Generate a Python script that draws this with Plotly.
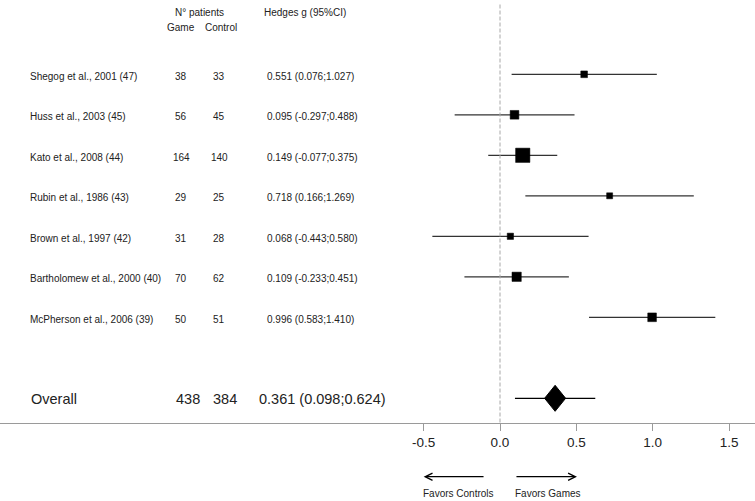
import plotly.graph_objects as go

# ---------------- data ----------------
studies = [
    "Shegog et al., 2001 (47)",
    "Huss et al., 2003 (45)",
    "Kato et al., 2008 (44)",
    "Rubin et al., 1986 (43)",
    "Brown et al., 1997 (42)",
    "Bartholomew et al., 2000 (40)",
    "McPherson et al., 2006 (39)",
]
n_game = [38, 56, 164, 29, 31, 70, 50]
n_control = [33, 45, 140, 25, 28, 62, 51]
hedges_g = [0.551, 0.095, 0.149, 0.718, 0.068, 0.109, 0.996]
ci_low = [0.076, -0.297, -0.077, 0.166, -0.443, -0.233, 0.583]
ci_high = [1.027, 0.488, 0.375, 1.269, 0.580, 0.451, 1.410]

overall_label = "Overall"
overall_game = 438
overall_control = 384
overall_g = 0.361
overall_low = 0.098
overall_high = 0.624

tick_values = [-0.5, 0.0, 0.5, 1.0, 1.5]
tick_labels = ["-0.5", "0.0", "0.5", "1.0", "1.5"]

# ---------------- styles ----------------
W, H = 755, 501
X0_PX = 500.0          # pixel of g = 0
PX_PER_UNIT = 152.7    # pixels per unit of g
ROW0_PX = 74.3         # pixel of first row
ROW_PX = 40.5          # pixels per row
square_px = [6.7, 8.7, 14.3, 6.0, 6.3, 9.3, 8.7]
FONT = "Liberation Sans, Arial, Helvetica, sans-serif"
TXT = "#222222"
LINE = "#333333"

def px_x(p):
    return p / W

def px_y(p):
    return 1 - p / H

rows = list(range(len(studies)))
overall_row = len(studies) + 1

fig = go.Figure()

# CI lines
xs, ys = [], []
for r, lo, hi in zip(rows, ci_low, ci_high):
    xs += [lo, hi, None]
    ys += [r, r, None]
fig.add_trace(go.Scatter(x=xs, y=ys, mode="lines",
                         line=dict(color=LINE, width=1.3),
                         hoverinfo="skip", showlegend=False))

# squares
fig.add_trace(go.Scatter(x=hedges_g, y=rows, mode="markers",
                         marker=dict(symbol="square", size=square_px, color="black",
                                     opacity=1, line=dict(width=0.5, color="black")),
                         showlegend=False))

# overall CI line
fig.add_trace(go.Scatter(x=[overall_low, overall_high], y=[overall_row, overall_row],
                         mode="lines", line=dict(color="black", width=1.3),
                         hoverinfo="skip", showlegend=False))

# overall diamond
hw = 10.5 / PX_PER_UNIT
hh = 13.0 / ROW_PX
fig.add_trace(go.Scatter(
    x=[overall_g - hw, overall_g, overall_g + hw, overall_g, overall_g - hw],
    y=[overall_row, overall_row - hh, overall_row, overall_row + hh, overall_row],
    mode="lines", fill="toself", fillcolor="black",
    line=dict(color="black", width=1), hoverinfo="skip", showlegend=False))

ann = []

def text(x_px, y, s, size=10, anchor="left", yref="y", yshift=-2):
    ann.append(dict(x=px_x(x_px), xref="paper", y=y, yref=yref, text=s,
                    showarrow=False, xanchor=anchor, yanchor="middle",
                    yshift=yshift, font=dict(family=FONT, size=size, color=TXT)))

# headers
text(199, px_y(12.7), "N° patients", anchor="center", yref="paper", yshift=0)
text(181, px_y(27.7), "Game", anchor="center", yref="paper", yshift=0)
text(221, px_y(27.7), "Control", anchor="center", yref="paper", yshift=0)
text(262, px_y(12.7), "Hedges g (95%CI)", anchor="left", yref="paper", yshift=0)

# study rows
for r, s, ng, nc, g, lo, hi in zip(rows, studies, n_game, n_control, hedges_g, ci_low, ci_high):
    text(28.3, r, s)
    text(181, r, str(ng), anchor="center")
    text(219, r, str(nc), anchor="center")
    text(265, r, f"{g:.3f} ({lo:.3f};{hi:.3f})")

# overall row
text(29, overall_row, overall_label, size=14.5, yshift=-1)
text(188, overall_row, str(overall_game), size=14.5, anchor="center", yshift=-1)
text(225, overall_row, str(overall_control), size=14.5, anchor="center", yshift=-1)
text(257, overall_row, f"{overall_g:.3f} ({overall_low:.3f};{overall_high:.3f})", size=14.5, yshift=-1)

# favors labels
text(459, px_y(493), "Favors Controls", anchor="center", yref="paper", yshift=0)
text(548, px_y(493), "Favors Games", anchor="center", yref="paper", yshift=0)

# arrows
arrow_y = px_y(476.7)
for head, tail in [(-0.5, -0.098), (0.504, 0.098)]:
    ann.append(dict(x=head, xref="x", y=arrow_y, yref="paper",
                    ax=tail, axref="x", ay=0, ayref="pixel",
                    text="", showarrow=True, arrowhead=5, arrowsize=1.1,
                    arrowwidth=1.3, arrowcolor="black", standoff=0, startstandoff=0))

fig.update_layout(annotations=ann)

# dashed zero line
fig.add_shape(type="line", xref="x", yref="paper", x0=0, x1=0,
              y0=px_y(422.5), y1=px_y(3),
              line=dict(color="#a8a8a8", width=1, dash="4px,2px"))

fig.update_layout(
    width=W, height=H,
    margin=dict(l=0, r=0, t=0, b=0, pad=0),
    paper_bgcolor="white", plot_bgcolor="white",
    showlegend=False,
    xaxis=dict(range=[-X0_PX / PX_PER_UNIT, (W - X0_PX) / PX_PER_UNIT],
               anchor="free", position=px_y(422.5),
               showgrid=False, zeroline=False,
               showline=True, linecolor="#9a9a9a", linewidth=1,
               ticks="outside", ticklen=7, tickcolor="#9a9a9a", tickwidth=1,
               tickvals=tick_values, ticktext=tick_labels,
               tickfont=dict(family=FONT, size=13.5, color=TXT),
               fixedrange=True),
    yaxis=dict(range=[(H - ROW0_PX) / ROW_PX, -ROW0_PX / ROW_PX],
               visible=False, fixedrange=True),
)

fig.write_html("out.html",
               config={"displayModeBar": False},
               post_script="document.body.style.margin='0px';document.body.style.overflow='hidden';")
